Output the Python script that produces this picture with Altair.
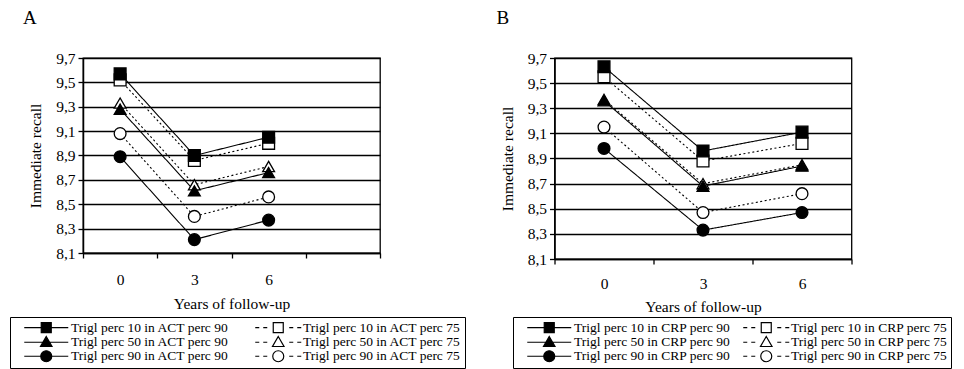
import altair as alt
import pandas as pd

# ---------------- data ----------------
years = ["0", "3", "6"]
y_ticks = [8.1, 8.3, 8.5, 8.7, 8.9, 9.1, 9.3, 9.5, 9.7]

a_names = ["Trigl perc 10 in ACT perc 90", "Trigl perc 10 in ACT perc 75",
           "Trigl perc 50 in ACT perc 90", "Trigl perc 50 in ACT perc 75",
           "Trigl perc 90 in ACT perc 90", "Trigl perc 90 in ACT perc 75"]
a_t10_p90 = [9.57, 8.90, 9.05]
a_t10_p75 = [9.52, 8.86, 9.00]
a_t50_p90 = [9.28, 8.61, 8.76]
a_t50_p75 = [9.33, 8.66, 8.81]
a_t90_p90 = [8.89, 8.21, 8.37]
a_t90_p75 = [9.08, 8.40, 8.56]

b_names = ["Trigl perc 10 in CRP perc 90", "Trigl perc 10 in CRP perc 75",
           "Trigl perc 50 in CRP perc 90", "Trigl perc 50 in CRP perc 75",
           "Trigl perc 90 in CRP perc 90", "Trigl perc 90 in CRP perc 75"]
b_t10_p90 = [9.63, 8.96, 9.11]
b_t10_p75 = [9.55, 8.88, 9.02]
b_t50_p90 = [9.36, 8.68, 8.84]
b_t50_p75 = [9.37, 8.70, 8.85]
b_t90_p90 = [8.98, 8.33, 8.47]
b_t90_p75 = [9.15, 8.47, 8.62]

FONT = "Liberation Serif"
AX_FS = 15.5

# ---------------- styles (scale ranges) ----------------
shape_range = ["square", "square", "triangle-up", "triangle-up", "circle", "circle"]
fill_range = ["black", "white", "black", "white", "black", "white"]
dash_range = [[1, 0], [2, 2.5], [1, 0], [2, 2.5], [1, 0], [2, 2.5]]

# legend symbols: line (solid or dashed) through a marker; unit = 5 px
solid = "M-4.4,0H4.4"
dashed = "M-4.6,0H-3.8M-3.0,0H-2.2M2.2,0H3.0M3.8,0H4.6"
sq = "M-1,-1H1V1H-1Z"
tri = "M0,-1.15L1.15,0.85H-1.15Z"
circ = "M-1.1,0A1.1,1.1 0 1,0 1.1,0A1.1,1.1 0 1,0 -1.1,0Z"
# legend order is column-major: the three perc-90 series, then the three perc-75 series
legend_order = [0, 2, 4, 1, 3, 5]
legend_paths = [solid + sq, solid + tri, solid + circ,
                dashed + sq, dashed + tri, dashed + circ]
legend_fills = ["black", "black", "black", "white", "white", "white"]
legend_strokes = ["black"] * 6


def make_df(names, series_vals):
    rows = []
    # open (perc 75) markers first so the filled ones are drawn on top
    for idx in [1, 3, 5, 0, 2, 4]:
        for yr, v in zip(years, series_vals[idx]):
            rows.append({"series": names[idx], "year": yr, "value": v})
    return pd.DataFrame(rows)


def panel(names, series_vals, letter, xdomain, w, h, lx, ly, tdx, lab_pad, ttl_pad, colpad):
    df = make_df(names, series_vals)
    leg_domain = [names[i] for i in legend_order]
    x = alt.X("year:O", bandPosition=0.5,
              scale=alt.Scale(type="band", domain=xdomain, paddingInner=0, paddingOuter=0),
              axis=alt.Axis(title="Years of follow-up", tickBand="extent", grid=False,
                            labelAngle=0, tickSize=5, labelPadding=lab_pad,
                            titlePadding=ttl_pad, domainWidth=1.5, tickWidth=1.3,
                            labelFont=FONT, titleFont=FONT, labelFontSize=AX_FS,
                            titleFontSize=AX_FS, titleFontWeight="normal",
                            labelColor="black", titleColor="black"))
    y = alt.Y("value:Q",
              scale=alt.Scale(domain=[8.1, 9.7], nice=False, zero=False),
              axis=alt.Axis(title="Immediate recall", values=y_ticks,
                            labelExpr="replace(format(datum.value, '.1f'), '.', ',')",
                            grid=True, tickSize=5, labelPadding=3, titlePadding=12,
                            domainWidth=1.5, tickWidth=1.3,
                            labelFont=FONT, titleFont=FONT, labelFontSize=AX_FS,
                            titleFontSize=AX_FS, titleFontWeight="normal",
                            labelColor="black", titleColor="black"))
    base = alt.Chart(df)
    lines = base.mark_line(color="black", strokeWidth=1.1).encode(
        x=x, y=y,
        detail="series:N",
        strokeDash=alt.StrokeDash("series:N", legend=None,
                                  scale=alt.Scale(domain=names, range=dash_range)),
    )
    points = base.mark_point(filled=True, stroke="black", strokeWidth=1.3, size=140,
                             opacity=1).encode(
        x=x, y=y,
        shape=alt.Shape("series:N", legend=None,
                        scale=alt.Scale(domain=names, range=shape_range)),
        fill=alt.Fill("series:N", legend=None,
                      scale=alt.Scale(domain=names, range=fill_range)),
    )
    legend = alt.Legend(title=" ", titleOrient="left", titleFontSize=1, titlePadding=9,
                        titleColor="white",
                        orient="none", legendX=lx, legendY=ly,
                        columns=2, columnPadding=colpad, rowPadding=-4.5,
                        padding=3.5, labelFont=FONT, labelFontSize=13.5,
                        labelColor="black", labelOffset=18, symbolOffset=17,
                        symbolSize=100, symbolStrokeWidth=1.2, symbolOpacity=1,
                        strokeColor="black", fillColor="white", labelLimit=300)
    leg = base.transform_filter("false").mark_point(
        filled=True, size=100, strokeWidth=1.2, opacity=1
    ).encode(
        x=x, y=y,
        shape=alt.Shape("series:N",
                        scale=alt.Scale(domain=leg_domain, range=legend_paths),
                        legend=legend),
        fill=alt.Fill("series:N",
                      scale=alt.Scale(domain=leg_domain, range=legend_fills),
                      legend=legend),
        stroke=alt.Stroke("series:N",
                          scale=alt.Scale(domain=leg_domain, range=legend_strokes),
                          legend=legend),
    )
    return alt.layer(lines, points, leg).resolve_scale(
        shape="independent", fill="independent", stroke="independent"
    ).properties(
        width=w, height=h,
        title=alt.TitleParams(letter, anchor="start", frame="group", dx=tdx, offset=8,
                              baseline="alphabetic", font=FONT, fontSize=19,
                              fontWeight="normal", color="black"),
    )


panel_a = panel(a_names, [a_t10_p90, a_t10_p75, a_t50_p90, a_t50_p75, a_t90_p90, a_t90_p75],
                "A", years + [" "], 297, 195, -73, 259, -60, 14, 9, 23)
panel_b = panel(b_names, [b_t10_p90, b_t10_p75, b_t50_p90, b_t50_p75, b_t90_p90, b_t90_p75],
                "B", years, 297, 201, -41.5, 259, -58, 12, 8, 10)

chart = alt.hconcat(panel_a, panel_b, spacing=28.5).resolve_scale(
    x="independent", y="independent", shape="independent", fill="independent",
    stroke="independent", strokeDash="independent"
).properties(
    padding={"left": 0, "top": 0, "right": 0, "bottom": 0}
).configure_view(
    stroke="black", strokeWidth=1.3
).configure_axis(
    labelFont=FONT, titleFont=FONT, labelFontSize=AX_FS, titleFontSize=AX_FS,
    labelColor="black", titleColor="black", domainColor="black", tickColor="black",
    gridColor="black", gridWidth=1.3, titleFontWeight="normal"
)

chart.save("out.html", embed_options={"renderer": "svg", "actions": False})
